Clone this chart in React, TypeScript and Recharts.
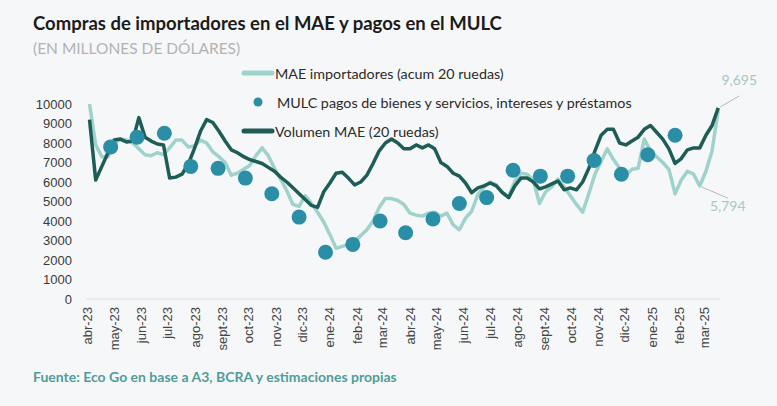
import { ComposedChart, Line, Scatter, XAxis, YAxis, LabelList } from "recharts"

const monthLabels = [
  "abr-23", "may-23", "jun-23", "jul-23", "ago-23", "sept-23", "oct-23", "nov-23",
  "dic-23", "ene-24", "feb-24", "mar-24", "abr-24", "may-24", "jun-24", "jul-24",
  "ago-24", "sept-24", "oct-24", "nov-24", "dic-24", "ene-25", "feb-25", "mar-25",
]

const yTicks = [0, 1000, 2000, 3000, 4000, 5000, 6000, 7000, 8000, 9000, 10000]

// weekly readings, first one on Monday 3 Apr 2023
const maeImportadores = [
  10000, 7900, 7300, 7300, 7950, 8200, 8150, 8000, 7700, 7400,
  7350, 7500, 7400, 7750, 8150, 8150, 7800, 7850, 8150, 8000,
  7550, 7300, 7000, 6350, 6450, 6650, 6850, 7350, 7750, 7350,
  6700, 6150, 5550, 4850, 4750, 5300, 4900, 4450, 3950, 3300,
  2600, 2700, 2800, 2950, 3250, 3550, 4000, 4700, 5150, 5150,
  5050, 4850, 4400, 4300, 4250, 4400, 4450, 4250, 4400, 3800,
  3550, 4150, 4500, 5350, 5750, 6000, 5850, 5450, 5250, 6050,
  6450, 6400, 6100, 4900, 5500, 5750, 6150, 5750, 5300, 4850,
  4450, 5400, 6400, 7050, 7700, 7150, 6700, 6350, 6650, 6700,
  8200, 7600, 7300, 7000, 6650, 5400, 6100, 6550, 6400, 5794,
  6550, 7600, 9695,
]

const volumenMae = [
  9200, 6100, 6800, 7500, 8150, 8200, 8050, 8100, 9300, 8300,
  8100, 7950, 7900, 6200, 6250, 6400, 6900, 7700, 8600, 9200,
  9050, 8600, 8100, 7650, 7500, 7300, 7150, 7050, 6950, 6750,
  6550, 6250, 6000, 5700, 5400, 5100, 4800, 4700, 5500, 5950,
  6450, 6500, 6200, 5850, 6000, 6350, 6950, 7600, 8000, 8200,
  8000, 7700, 7700, 7900, 7750, 7900, 7700, 7000, 6800, 6450,
  6300, 5950, 5450, 5700, 5800, 5950, 5800, 5450, 5200, 5800,
  6200, 6200, 6000, 5650, 5750, 5900, 6050, 5600, 5700, 5600,
  6000, 6700, 7600, 8400, 8700, 8700, 8000, 7900, 8100, 8300,
  8700, 8900, 8550, 8200, 7700, 6950, 7200, 7650, 7750, 7750,
  8400, 8900, 9800,
]

// MULC payments, one per month from abr-23 to ene-25
const mulcPagos = [
  7800, 8300, 8500, 6800, 6700, 6200, 5400, 4200, 2400, 2800, 4000,
  3400, 4100, 4900, 5200, 6600, 6300, 6300, 7100, 6400, 7400, 8400,
]

const LIGHT = "#9ed2ca"
const DARK = "#1e5d55"
const DOT = "#2a8ea7"
const NOTE = "#a7c8c3"
const BG = "#f6f7f8"
const UI_FONT = "Lato, 'Noto Sans', sans-serif"
const AXIS_FONT = "'Liberation Sans', Arial, sans-serif"

const START = Date.UTC(2023, 3, 1)
const dayOf = (y: number, m: number, d: number) => Math.round((Date.UTC(y, m, d) - START) / 86400000)

const monthTicks = monthLabels.map((_, i) => dayOf(2023, 3 + i, 1))

const weeklyRows = volumenMae.map((v, i) => ({ day: 2 + 7 * i, volumen: v, mae: maeImportadores[i] }))
const mulcRows = mulcPagos.map((v, i) => ({ day: dayOf(2023, 3 + i, 27), mulc: v }))

const lastIdx = maeImportadores.length - 1
const lowIdx = maeImportadores.lastIndexOf(5794)

function MonthTick({ x, y, payload }: any) {
  const label = monthLabels[monthTicks.indexOf(payload.value)]
  return (
    <text
      transform={`translate(${x},${y}) rotate(-90)`}
      textAnchor="end"
      dominantBaseline="central"
      fontSize={13}
      fontFamily={AXIS_FONT}
      fill="#444"
    >
      {label}
    </text>
  )
}

function ValueNote({ x, y, value, index }: any) {
  if (index !== lastIdx && index !== lowIdx) return null
  const up = index === lastIdx
  const lx = up ? x + 21 : x + 28
  const ly = up ? y - 14 : y + 12
  return (
    <g>
      <line x1={x + 2} y1={y + (up ? -3 : 1)} x2={lx} y2={ly} stroke="#b9b9b9" strokeWidth={1} />
      <text
        x={lx}
        y={up ? ly - 11 : ly + 13}
        textAnchor="middle"
        fontSize={14}
        fontFamily={UI_FONT}
        fill={NOTE}
      >
        {Number(value).toLocaleString("en-US")}
      </text>
    </g>
  )
}

function LegendBox() {
  return (
    <g fontFamily={UI_FONT} fontSize={14.3} fill="#2b2b2b">
      <line x1={244} y1={73} x2={272} y2={73} stroke={LIGHT} strokeWidth={5} strokeLinecap="round" />
      <text x={275} y={73} dominantBaseline="central">MAE importadores (acum 20 ruedas)</text>
      <circle cx={258} cy={102} r={4.5} fill={DOT} />
      <text x={277} y={102} dominantBaseline="central">MULC pagos de bienes y servicios, intereses y préstamos</text>
      <line x1={244} y1={131} x2={272} y2={131} stroke={DARK} strokeWidth={5} strokeLinecap="round" />
      <text x={275} y={131} dominantBaseline="central">Volumen MAE (20 ruedas)</text>
    </g>
  )
}

export default function App() {
  return (
    <div style={{ position: "absolute", left: 0, top: 0, width: 777, height: 406, background: BG, overflow: "hidden" }}>
      <ComposedChart
        width={777}
        height={406}
        data={weeklyRows}
        margin={{ top: 104, right: 57, left: 36, bottom: 47 }}
      >
        <XAxis
          dataKey="day"
          type="number"
          domain={[-2, 718]}
          ticks={monthTicks}
          interval={0}
          tick={<MonthTick />}
          tickLine={false}
          axisLine={{ stroke: "#dedede" }}
          height={60}
        />
        <YAxis
          type="number"
          domain={[0, 10000]}
          ticks={yTicks}
          interval={0}
          width={50}
          axisLine={false}
          tickLine={false}
          tickMargin={8}
          tick={{ fontSize: 13, fill: "#3a3a3a", fontFamily: AXIS_FONT }}
        />
        <Line
          dataKey="mae"
          stroke={LIGHT}
          strokeWidth={3.5}
          strokeLinejoin="round"
          dot={false}
          isAnimationActive={false}
        >
          <LabelList dataKey="mae" content={<ValueNote />} />
        </Line>
        <Line
          dataKey="volumen"
          stroke={DARK}
          strokeWidth={3.5}
          strokeLinejoin="round"
          dot={false}
          isAnimationActive={false}
        />
        <Scatter
          data={mulcRows}
          dataKey="mulc"
          fill={DOT}
          isAnimationActive={false}
          shape={(p: any) => <circle cx={p.cx} cy={p.cy} r={7.5} fill={DOT} />}
        />
      </ComposedChart>
      <svg width={777} height={406} style={{ position: "absolute", left: 0, top: 0, pointerEvents: "none" }}>
        <text x={33} y={29.5} fontFamily={UI_FONT} fontWeight={700} fontSize={18.5} fill="#1b1b1b">
          Compras de importadores en el MAE y pagos en el MULC
        </text>
        <text x={33} y={54} fontFamily={UI_FONT} fontSize={15.5} fill="#b3b3b3">
          (EN MILLONES DE DÓLARES)
        </text>
        <LegendBox />
        <text x={33} y={382} fontFamily={UI_FONT} fontWeight={700} fontSize={14} fill="#4f9d9a">
          Fuente: Eco Go en base a A3, BCRA y estimaciones propias
        </text>
      </svg>
    </div>
  )
}
